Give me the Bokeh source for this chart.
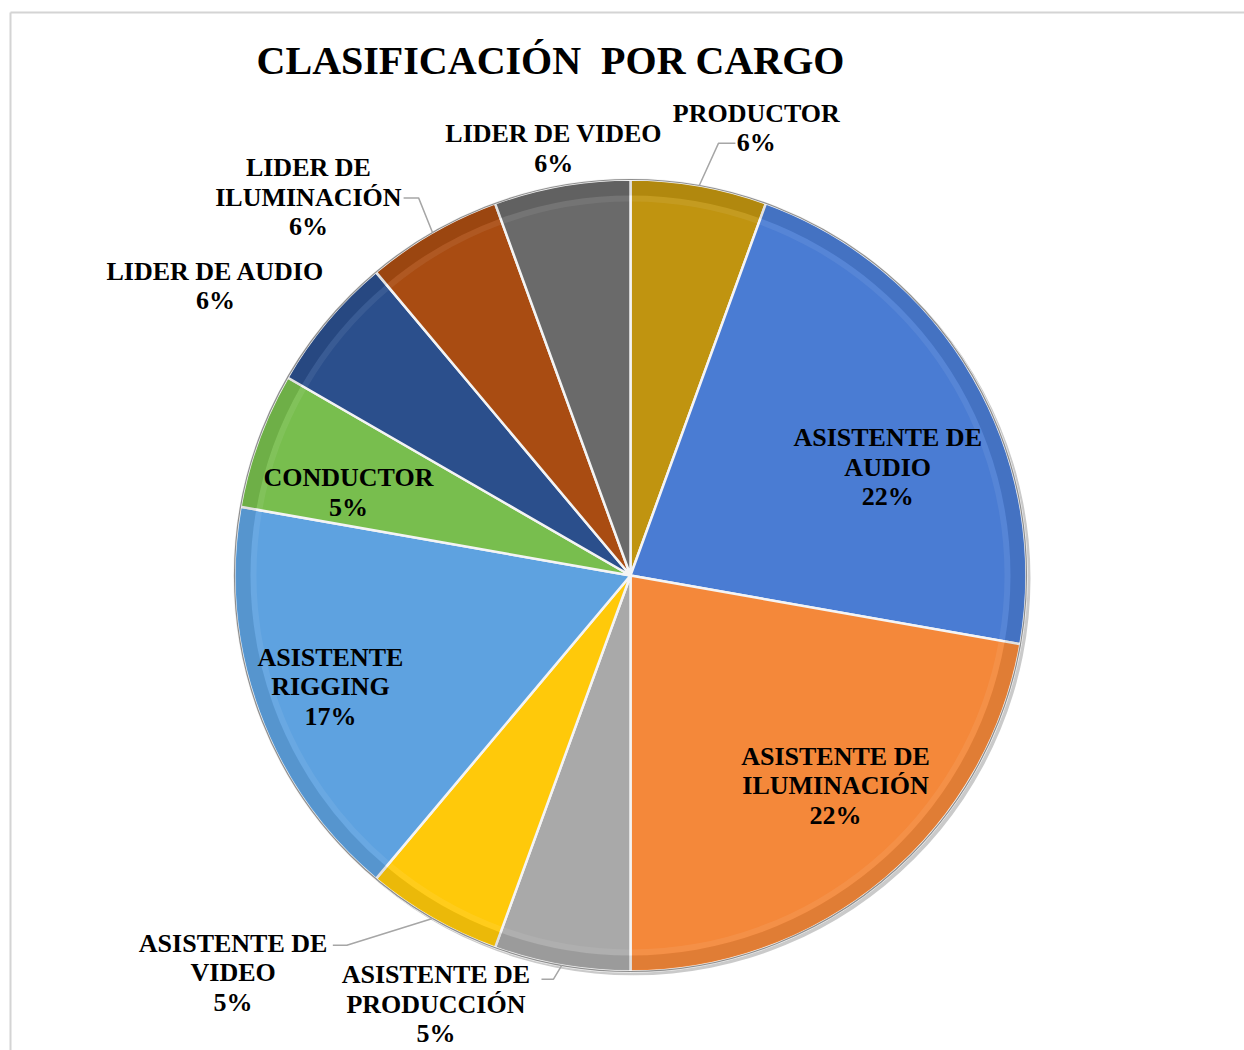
import numpy as np
from bokeh.plotting import figure
from bokeh.models import Range1d, ColumnDataSource
from bokeh.core.properties import value
from bokeh.embed import file_html
from bokeh.resources import INLINE

# ---------------- data ----------------
title_text = "CLASIFICACIÓN\u00a0 POR CARGO"
categories = ["PRODUCTOR", "ASISTENTE DE\nAUDIO", "ASISTENTE DE\nILUMINACIÓN",
              "ASISTENTE DE\nPRODUCCIÓN", "ASISTENTE DE\nVIDEO", "ASISTENTE\nRIGGING",
              "CONDUCTOR", "LIDER DE AUDIO", "LIDER DE\nILUMINACIÓN", "LIDER DE VIDEO"]
counts = [1, 4, 4, 1, 1, 3, 1, 1, 1, 1]
pct_labels = ["6%", "22%", "22%", "5%", "5%", "17%", "5%", "6%", "6%", "6%"]

# ---------------- style / layout ----------------
colors = ["#C09410", "#4A7CD3", "#F4883A", "#A9A9A9", "#FFC90A",
          "#5EA2E0", "#78BE4E", "#2B4F8C", "#A94C12", "#6A6A6A"]
# label block centre as (radius, clockwise angle from top in degrees)
label_polar = [(465, 15.7), (279, 67.2), (293.5, 135.7), (471, 204.4), (562, 225),
               (320, 249.7), (294, 286.4), (506, 304.9), (497, 319.6), (434, 349.8)]
# leader lines: slice index -> (elbow radius, elbow angle, horizontal end dx)
leaders = {0: (441, 11.5, 17), 8: (433, 330.7, -15), 4: (466, 217.5, -14), 3: (411, 190.8, -12)}
CX, CY, R = 630, 575, 396
LINE_H = 29.5
FONT = value("Liberation Serif")

W, H = 1244, 1050
p = figure(width=W, height=H, output_backend="svg", toolbar_location=None,
           x_range=Range1d(0, W), y_range=Range1d(-H, 0),
           min_border=0, outline_line_color=None, background_fill_color="white")
p.axis.visible = False
p.grid.visible = False


def polar(r, theta_deg):
    t = np.radians(theta_deg)
    return CX + r * np.sin(t), -CY + r * np.cos(t)


# chart frame (light gray border)
p.line([10, W], [-12, -12], line_color="#d4d4d4", line_width=2)
p.line([10, 10], [-12, -H], line_color="#d4d4d4", line_width=2)

# slice geometry
vals = np.array(counts, dtype=float)
frac = vals / vals.sum()
cum = np.concatenate([[0], np.cumsum(frac)]) * 360.0
th_s, th_e = cum[:-1], cum[1:]
mids = (th_s + th_e) / 2
start = np.radians(90 - th_e)
end = np.radians(90 - th_s)

# shadow
p.circle(x=[CX + 3], y=[-CY - 3], radius=R + 1, fill_color="#8a8a8a", fill_alpha=0.45,
         line_color=None)

src = ColumnDataSource(dict(x=[CX] * len(vals), y=[-CY] * len(vals), s=start, e=end,
                            c=colors))
p.wedge(x="x", y="y", radius=R, start_angle="s", end_angle="e", fill_color="c",
        line_color="#f4f4f4", line_width=2.5, source=src)
# bevel: darker outer band and lighter inner highlight
p.annular_wedge(x="x", y="y", inner_radius=R - 16, outer_radius=R - 1.5,
                start_angle="s", end_angle="e", fill_color="black", fill_alpha=0.08,
                line_color=None, source=src)
p.annular_wedge(x="x", y="y", inner_radius=R - 22, outer_radius=R - 16,
                start_angle="s", end_angle="e", fill_color="white", fill_alpha=0.07,
                line_color=None, source=src)
p.circle(x=[CX], y=[-CY], radius=R, fill_color=None, line_color="#8f8f8f", line_width=1.2)

# leader lines
for i, (er, ea, dx) in leaders.items():
    x0, y0 = polar(R, mids[i])
    x1, y1 = polar(er, ea)
    p.line([x0, x1, x1 + dx], [y0, y1, y1], line_color="#a6a6a6", line_width=1.5)

# labels
lx, ly, lt = [], [], []
for i, cat in enumerate(categories):
    lines = cat.split("\n") + [pct_labels[i]]
    bx, by = polar(*label_polar[i])
    n = len(lines)
    for k, t in enumerate(lines):
        lx.append(bx)
        ly.append(by - (k - (n - 1) / 2) * LINE_H)
        lt.append(t)
p.text(x=lx, y=ly, text=lt, text_font=FONT, text_font_style="bold",
       text_font_size="26px", text_color="black", text_align="center",
       text_baseline="middle")

# title
p.text(x=[550], y=[-60], text=[title_text], text_font=FONT, text_font_style="bold",
       text_font_size="40px", text_color="black", text_align="center",
       text_baseline="middle")

open("out.html", "w").write(file_html(p, INLINE))
